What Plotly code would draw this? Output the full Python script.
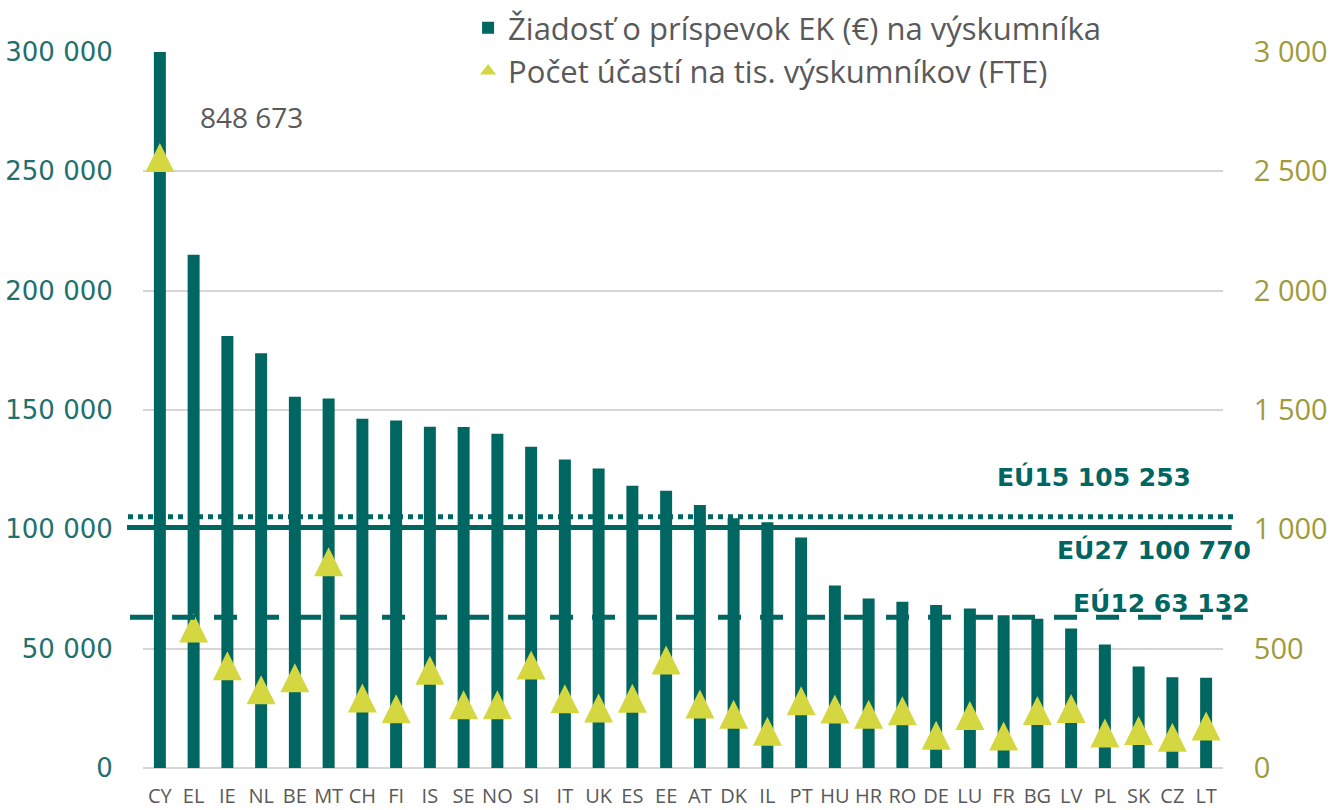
import plotly.graph_objects as go

countries = ["CY", "EL", "IE", "NL", "BE", "MT", "CH", "FI", "IS", "SE", "NO", "SI", "IT", "UK",
             "ES", "EE", "AT", "DK", "IL", "PT", "HU", "HR", "RO", "DE", "LU", "FR", "BG", "LV",
             "PL", "SK", "CZ", "LT"]
grant_per_researcher = [848673, 215000, 181000, 173800, 155600, 154800, 146300, 145600, 143000,
                        142900, 140100, 134600, 129300, 125500, 118300, 116200, 110200, 104600,
                        103000, 96600, 76500, 71000, 69700, 68300, 66800, 64000, 62500, 58400,
                        51700, 42500, 38000, 37800]
participations_per_1000 = [2558, 587, 428, 328, 378, 864, 293, 248, 410, 265, 265, 432, 290, 251,
                           292, 453, 268, 225, 154, 282, 247, 225, 240, 137, 220, 134, 241, 249,
                           147, 157, 129, 176]
eu15, eu27, eu12 = 105253, 100770, 63132
legend_bar = "Žiadosť o príspevok EK (€) na výskumníka"
legend_tri = "Počet účastí na tis. výskumníkov (FTE)"

TEAL = "#006661"
LIME = "#D5D741"
GRAY = "#595959"
GRID = "#D6D6D6"

# layout geometry (pixels)
plot_h = 716
tri_size = 29
y2_max = 3000
tri_offset = (tri_size / 2) * y2_max / plot_h  # shift so triangle's box is centred on value

fig = go.Figure()
fig.add_trace(go.Bar(
    x=countries, y=grant_per_researcher, name=legend_bar,
    marker=dict(color=TEAL, line=dict(width=0)), width=0.355,
))
fig.add_trace(go.Scatter(
    x=countries, y=participations_per_1000, yaxis="y3", mode="markers",
    marker=dict(symbol="arrow-up", size=tri_size, color=LIME, line=dict(width=0)),
    showlegend=False, name=legend_tri,
))
fig.add_trace(go.Scatter(
    x=[None], y=[None], mode="markers", name=legend_tri, yaxis="y2",
    marker=dict(symbol="triangle-up", size=14, color=LIME, line=dict(width=0)),
))

line_styles = [
    (eu15, "dot", -0.0139, 1.011),
    (eu27, "solid", -0.0148, 1.008),
    (eu12, "23px,19px", -0.0120, 1.008),
]
for val, dash, x0, x1 in line_styles:
    fig.add_shape(type="line", xref="paper", yref="y", x0=x0, x1=x1, y0=val, y1=val,
                  line=dict(color=TEAL, width=5, dash=dash), layer="above")

def fmt(v):
    return f"{v:,}".replace(",", " ")

annos = [
    (f"<b>EÚ15 {fmt(eu15)}</b>", 0.972, 0.406),
    (f"<b>EÚ27 {fmt(eu27)}</b>", 1.0278, 0.305),
    (f"<b>EÚ12 {fmt(eu12)}</b>", 1.0269, 0.231),
]
for txt, x, y in annos:
    fig.add_annotation(text=txt, xref="paper", yref="paper", x=x, y=y, xanchor="right",
                       yanchor="middle", showarrow=False,
                       font=dict(family="DejaVu Sans", size=25, color=TEAL))
fig.add_annotation(text=fmt(grant_per_researcher[0]), xref="paper", yref="paper", x=0.1005,
                   y=0.909, xanchor="center", yanchor="middle", showarrow=False,
                   font=dict(family="Open Sans", size=28, color=GRAY))

fig.update_layout(
    width=1331, height=810,
    margin=dict(l=143, r=108, t=52, b=42, autoexpand=False),
    paper_bgcolor="white", plot_bgcolor="white",
    separators=", ",
    bargap=0.5,
    xaxis=dict(type="category", showgrid=False, showline=False, ticks="outside", ticklen=10,
               tickcolor="rgba(0,0,0,0)", tickfont=dict(family="Open Sans", size=20, color=GRAY),
               range=[-0.5, len(countries) - 0.5], automargin=False),
    yaxis=dict(range=[0, 300000], dtick=50000, tickformat=",.0f", showgrid=True,
               gridcolor=GRID, gridwidth=2, zeroline=True, zerolinecolor=GRID, zerolinewidth=2,
               ticks="outside", ticklen=24, tickcolor="rgba(0,0,0,0)", automargin=False,
               tickfont=dict(family="DejaVu Sans", size=26, color="#22706E")),
    yaxis2=dict(range=[0, y2_max], dtick=500, tickformat=",.0f", overlaying="y", side="right",
                showgrid=False, zeroline=False, ticks="outside", ticklen=24,
                tickcolor="rgba(0,0,0,0)", automargin=False,
                tickfont=dict(family="Open Sans", size=29, color="#9F9A3A")),
    yaxis3=dict(range=[-tri_offset, y2_max - tri_offset], overlaying="y", visible=False),
    legend=dict(x=0.301, y=1.071, xanchor="left", yanchor="top", bgcolor="rgba(0,0,0,0)",
                font=dict(family="Open Sans", size=31, color=GRAY), tracegroupgap=0),
)

fig.write_html("out.html", config={"displayModeBar": False},
               post_script="document.body.style.margin='0px';document.body.style.overflow='hidden';")
